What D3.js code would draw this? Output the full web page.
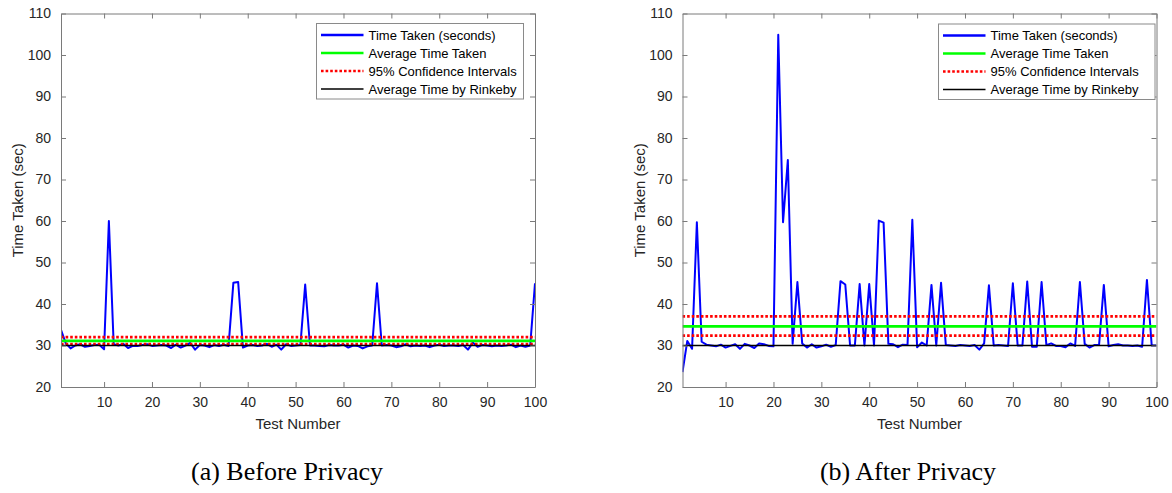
<!DOCTYPE html>
<html>
<head>
<meta charset="utf-8">
<script src="https://cdn.jsdelivr.net/npm/d3@7"></script>
<style>
  html, body { margin: 0; padding: 0; background: #fff; }
  svg { display: block; }
</style>
</head>
<body>
<svg id="chart" width="1172" height="493"></svg>
<script>
// ---------------- DATA ----------------
const testNumbers = d3.range(1, 101);

const beforeTimes = [
  33.8, 30.5, 29.3, 30.0, 30.3, 29.7, 29.9, 30.1, 30.2, 29.1,
  60.0, 30.3, 30.0, 30.4, 29.4, 29.9, 29.9, 30.1, 30.3, 29.9,
  30.0, 30.1, 30.0, 29.4, 30.2, 29.5, 30.0, 30.6, 29.0, 30.1,
  30.0, 29.6, 30.1, 29.9, 30.2, 29.9, 45.1, 45.3, 29.5, 30.0,
  30.1, 29.9, 30.0, 30.4, 29.7, 30.2, 29.0, 30.3, 29.9, 30.0,
  30.1, 44.7, 30.0, 30.0, 29.9, 29.8, 30.1, 30.0, 30.0, 30.2,
  29.5, 30.0, 29.9, 29.3, 29.8, 30.0, 45.0, 30.0, 30.1, 30.0,
  29.6, 29.8, 30.3, 29.8, 30.0, 29.9, 30.0, 29.6, 30.0, 30.2,
  29.9, 30.0, 30.0, 29.9, 30.1, 29.0, 30.7, 29.7, 30.1, 30.0,
  29.8, 30.0, 29.9, 30.0, 30.2, 29.6, 30.0, 29.7, 30.0, 45.0
];

const afterTimes = [
  23.6, 31.1, 29.2, 59.7, 30.9, 30.2, 30.0, 29.8, 30.2, 29.5,
  29.9, 30.3, 29.2, 30.4, 30.0, 29.4, 30.5, 30.3, 29.9, 29.8,
  104.9, 59.7, 74.7, 30.4, 45.3, 30.5, 29.5, 30.3, 29.5, 29.8,
  30.2, 29.7, 30.1, 45.5, 44.7, 30.0, 30.0, 44.8, 30.0, 44.8,
  30.0, 60.1, 59.6, 30.4, 30.3, 29.6, 30.2, 30.1, 60.3, 29.6,
  30.7, 30.0, 44.6, 30.0, 45.1, 30.1, 30.0, 29.9, 30.1, 30.0,
  29.9, 30.1, 29.0, 30.5, 44.5, 30.0, 30.1, 30.0, 29.9, 45.0,
  30.0, 30.0, 45.4, 29.7, 29.7, 45.3, 30.1, 30.5, 29.9, 29.9,
  29.6, 30.5, 29.9, 45.3, 30.4, 29.5, 30.1, 30.1, 44.6, 29.8,
  30.1, 30.3, 30.0, 30.0, 29.9, 30.0, 29.7, 45.8, 30.0, 30.0
];

// average, lower CI, upper CI, Rinkeby average
const beforeStats = [31.1, 30.3, 32.0, 30.0];
const afterStats  = [34.6, 32.4, 37.0, 30.0];

const xTicks = [10, 20, 30, 40, 50, 60, 70, 80, 90, 100];
const yTicks = [20, 30, 40, 50, 60, 70, 80, 90, 100, 110];

const legendLabels = ["Time Taken (seconds)", "Average Time Taken", "95% Confidence Intervals", "Average Time by Rinkeby"];
const xLabel = "Test Number";
const yLabel = "Time Taken (sec)";
const captions = ["(a) Before Privacy", "(b) After Privacy"];

// ---------------- DRAW ----------------
const svg = d3.select("#chart");
const AXIS = "#7a7a7a";
const TEXT = "#262626";
const SANS = "'Liberation Sans', Arial, Helvetica, sans-serif";

const styles = [
  {color: "#0000ff", width: 2, dash: null},
  {color: "#00ff00", width: 2.8, dash: null},
  {color: "#ff0000", width: 2.8, dash: "2.6,2"},
  {color: "#000000", width: 1.5, dash: null}
];

function drawPanel(p) {
  const x = d3.scaleLinear().domain([1, 100]).range([p.left, p.right]);
  const y = d3.scaleLinear().domain([20, 110]).range([p.bottom, p.top]);
  const g = svg.append("g");

  const clipId = "clip" + p.id;
  svg.append("clipPath").attr("id", clipId)
    .append("rect").attr("x", p.left).attr("y", p.top)
    .attr("width", p.right - p.left).attr("height", p.bottom - p.top);

  const plot = g.append("g").attr("clip-path", `url(#${clipId})`);

  const line = d3.line().x((d, i) => x(testNumbers[i])).y(d => y(d));
  plot.append("path").datum(p.values)
    .attr("d", line).attr("fill", "none")
    .attr("stroke", styles[0].color).attr("stroke-width", styles[0].width)
    .attr("stroke-linejoin", "round");

  const hline = (v, s) => plot.append("line")
    .attr("x1", x(1)).attr("x2", x(100))
    .attr("y1", y(v)).attr("y2", y(v))
    .attr("stroke", s.color).attr("stroke-width", s.width)
    .attr("stroke-dasharray", s.dash);
  hline(p.stats[0], styles[1]);
  hline(p.stats[1], styles[2]);
  hline(p.stats[2], styles[2]);
  hline(p.stats[3], styles[3]);

  const tickLen = 5;
  const axB = d3.axisBottom(x).tickValues(xTicks).tickSizeInner(-tickLen).tickSizeOuter(0).tickPadding(10);
  const axT = d3.axisTop(x).tickValues(xTicks).tickSizeInner(-tickLen).tickSizeOuter(0).tickFormat("");
  const axL = d3.axisLeft(y).tickValues(yTicks).tickSizeInner(-tickLen).tickSizeOuter(0).tickPadding(10);
  const axR = d3.axisRight(y).tickValues(yTicks).tickSizeInner(-tickLen).tickSizeOuter(0).tickFormat("");

  const axes = [
    g.append("g").attr("transform", `translate(0,${p.bottom})`).call(axB),
    g.append("g").attr("transform", `translate(0,${p.top})`).call(axT),
    g.append("g").attr("transform", `translate(${p.left},0)`).call(axL),
    g.append("g").attr("transform", `translate(${p.right},0)`).call(axR)
  ];
  axes.forEach(a => {
    a.selectAll("path").attr("stroke", AXIS).attr("stroke-width", 1);
    a.selectAll("line").attr("stroke", AXIS).attr("stroke-width", 1);
    a.selectAll("text").attr("fill", TEXT).style("font-family", SANS).style("font-size", "14px");
  });

  g.append("text").text(xLabel)
    .attr("x", (p.left + p.right) / 2).attr("y", p.bottom + 42)
    .attr("text-anchor", "middle").attr("fill", TEXT)
    .style("font-family", SANS).style("font-size", "15px");
  g.append("text").text(yLabel)
    .attr("transform", `translate(${p.left - 38},${(p.top + p.bottom) / 2}) rotate(-90)`)
    .attr("text-anchor", "middle").attr("fill", TEXT)
    .style("font-family", SANS).style("font-size", "15px");

  const L = p.legend;
  g.append("rect").attr("x", L.x).attr("y", L.y).attr("width", L.w).attr("height", L.h)
    .attr("fill", "#fff").attr("stroke", "#8a8a8a").attr("stroke-width", 1);
  legendLabels.forEach((lab, i) => {
    const yy = L.y + 11.5 + i * 18;
    const s = styles[i];
    g.append("line").attr("x1", L.x + 4.5).attr("x2", L.x + 47)
      .attr("y1", yy).attr("y2", yy)
      .attr("stroke", s.color).attr("stroke-width", i === 3 ? 1.5 : 2.4)
      .attr("stroke-dasharray", s.dash);
    g.append("text").text(lab)
      .attr("x", L.x + 52).attr("y", yy + 4.5)
      .attr("fill", "#000")
      .style("font-family", SANS).style("font-size", "13px");
  });

  g.append("text").text(p.caption)
    .attr("x", p.captionX).attr("y", 480)
    .attr("text-anchor", "middle").attr("fill", "#000")
    .style("font-family", "'Liberation Serif', 'Times New Roman', serif").style("font-size", "26px");
}

drawPanel({id: "a", left: 61, right: 535, top: 13.5, bottom: 387, values: beforeTimes, stats: beforeStats,
  legend: {x: 316.5, y: 23.5, w: 207, h: 75.5}, caption: captions[0], captionX: 287});
drawPanel({id: "b", left: 682.5, right: 1156.5, top: 13.5, bottom: 387, values: afterTimes, stats: afterStats,
  legend: {x: 938.5, y: 24, w: 216.5, h: 75.5}, caption: captions[1], captionX: 908});
</script>
</body>
</html>
